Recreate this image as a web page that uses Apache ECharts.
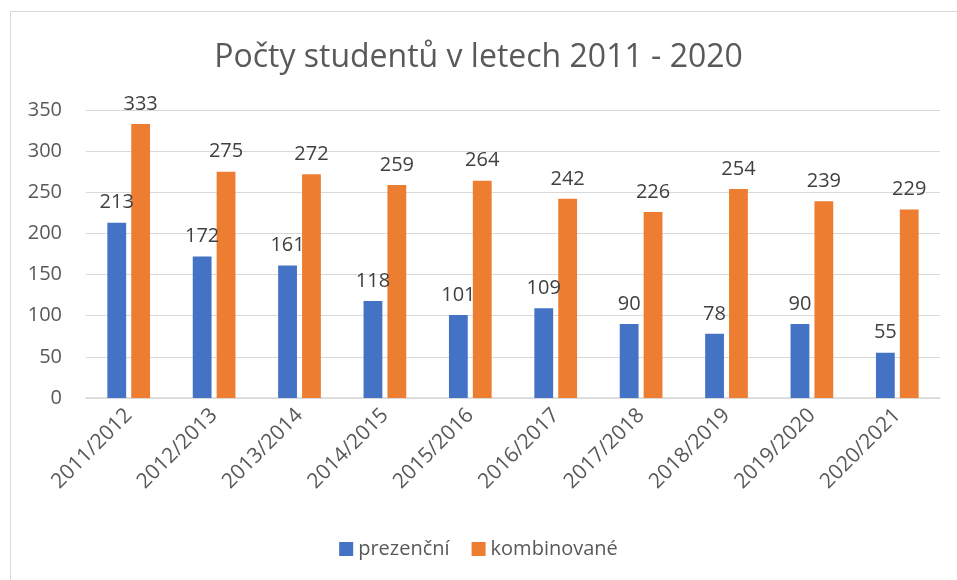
<!DOCTYPE html>
<html><head><meta charset="utf-8">
<script src="https://cdn.jsdelivr.net/npm/echarts@6/dist/echarts.min.js"></script>
<style>html,body{margin:0;padding:0;background:#fff}#c{width:957px;height:580px;position:relative}
#frame{position:absolute;left:10px;top:11px;width:960px;height:580px;border:1px solid #d9d9d9;box-sizing:border-box;pointer-events:none}</style>
</head><body><div id="c"></div><div id="frame"></div>
<script>
const categories = ['2011/2012','2012/2013','2013/2014','2014/2015','2015/2016','2016/2017','2017/2018','2018/2019','2019/2020','2020/2021'];
const prezencni = [213,172,161,118,101,109,90,78,90,55];
const kombinovane = [333,275,272,259,264,242,226,254,239,229];
const yTicks = {min:0, max:350, interval:50};
const F = '"Open Sans", sans-serif';
const chart = echarts.init(document.getElementById('c'));
const lbl = {show:true, position:'top', distance:10, color:'#404040', fontSize:20, fontFamily:F};
chart.setOption({
  animation:false,
  title:{text:'Počty studentů v letech 2011 - 2020', left:'center', top:37, textStyle:{fontFamily:F, fontSize:32, fontWeight:'normal', color:'#595959'}},
  grid:{left:86, right:17, top:110, bottom:182},
  legend:{bottom:16, left:'center', itemWidth:14, itemHeight:14, itemGap:22, icon:'rect', textStyle:{fontFamily:F, fontSize:20, color:'#595959'}, data:['prezenční','kombinované']},
  xAxis:{type:'category', data:categories, axisLine:{lineStyle:{color:'#d9d9d9', width:1.5}}, axisTick:{show:false},
    axisLabel:{rotate:45, interval:0, margin:14, fontFamily:F, fontSize:21, color:'#595959'}},
  yAxis:{type:'value', min:yTicks.min, max:yTicks.max, interval:yTicks.interval, axisLine:{show:false}, axisTick:{show:false},
    splitLine:{lineStyle:{color:'#d9d9d9'}}, axisLabel:{margin:24, fontFamily:F, fontSize:20, color:'#595959'}},
  series:[
    {name:'prezenční', type:'bar', data:prezencni, barGap:'27%', barCategoryGap:'50%', itemStyle:{color:'#4472C4'}, label:lbl},
    {name:'kombinované', type:'bar', data:kombinovane, itemStyle:{color:'#ED7D31'}, label:lbl}
  ]
});
</script></body></html>
